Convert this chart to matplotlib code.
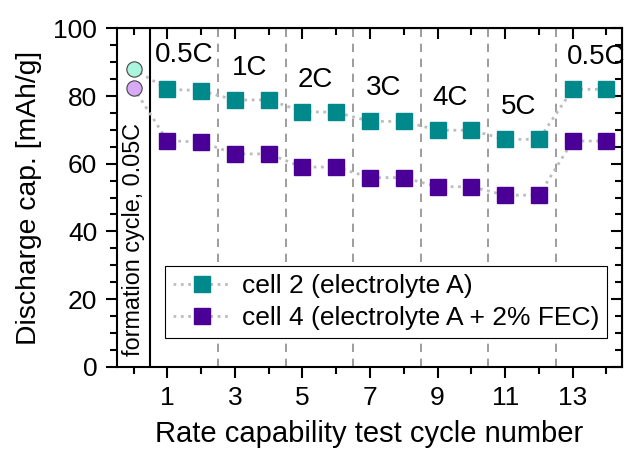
import numpy as np
import matplotlib.pyplot as plt
from matplotlib.ticker import MultipleLocator, FixedLocator, NullFormatter

plt.rcParams['font.family'] = ['Liberation Sans', 'DejaVu Sans']

# data
cycles = [0, 1, 2, 3, 4, 5, 6, 7, 8, 9, 10, 11, 12, 13, 14]
cell2 = [88.0, 82.0, 81.6, 78.8, 78.9, 75.4, 75.2, 72.5, 72.5, 69.9, 69.9, 67.2, 67.2, 82.0, 82.0]
cell4 = [82.4, 66.8, 66.4, 62.9, 62.9, 59.0, 59.0, 55.9, 55.9, 53.2, 53.2, 50.7, 50.7, 66.7, 66.7]
rate_labels = ['0.5C', '1C', '2C', '3C', '4C', '5C', '0.5C']
rate_x = [0.62, 2.9, 4.86, 6.87, 8.84, 10.86, 12.84]
rate_y = [92.1, 88.3, 84.7, 82.3, 79.3, 76.8, 91.4]
borders = [2.5, 4.5, 6.5, 8.5, 10.5, 12.5]

teal = '#00898a'
purple = '#4a0096'
teal_light = '#a9f5dd'
purple_light = '#d8a9f6'

fig = plt.figure(figsize=(6.25, 4.5), dpi=100)
ax = fig.add_axes([0.1867, 0.185, 0.808, 0.752])

for b in borders:
    ax.axvline(b, color='#8c8c8c', ls=(0, (5, 4)), lw=1.2, zorder=1)
ax.axvline(0.5, color='black', lw=1.5, zorder=2)

for vals, c, cl, lab in [(cell2, teal, teal_light, 'cell 2 (electrolyte A)'),
                         (cell4, purple, purple_light, 'cell 4 (electrolyte A + 2% FEC)')]:
    ax.plot(cycles, vals, ls=':', color='#bdbdbd', lw=2, zorder=3)
    ax.plot(cycles[1:], vals[1:], ls='none', marker='s', ms=11, mfc=c, mec=c,
            zorder=4)
    ax.plot(cycles[:1], vals[:1], ls='none', marker='o', ms=11, mfc=cl,
            mec='#444444', mew=0.8, zorder=4)
    ax.plot([], [], ls=':', color='#bdbdbd', lw=2, marker='s', ms=11,
            mfc=c, mec=c, label=lab)

for t, x, y in zip(rate_labels, rate_x, rate_y):
    ax.text(x, y, t, fontsize=20, ha='left', va='center', zorder=5)

ax.text(0.0, 3.3, 'formation cycle, 0.05C', rotation=90, fontsize=16.8,
        ha='center', va='bottom')

ax.set_xlim(-0.5, 14.45)
ax.set_ylim(0, 100)
ax.xaxis.set_major_locator(FixedLocator([1, 3, 5, 7, 9, 11, 13]))
ax.xaxis.set_minor_locator(FixedLocator([0, 2, 4, 6, 8, 10, 12, 14]))
ax.yaxis.set_major_locator(MultipleLocator(20))
ax.yaxis.set_minor_locator(MultipleLocator(5))
ax.tick_params(which='major', direction='out', length=8, width=1.5,
               labelsize=19, pad=6)
ax.tick_params(which='minor', direction='out', length=5, width=1.5)
for s in ax.spines.values():
    s.set_linewidth(1.5)

top = ax.secondary_xaxis('top')
top.xaxis.set_major_locator(FixedLocator([1, 3, 5, 7, 9, 11, 13]))
top.xaxis.set_minor_locator(FixedLocator([0, 2, 4, 6, 8, 10, 12, 14]))
top.xaxis.set_major_formatter(NullFormatter())
top.tick_params(which='major', direction='in', length=8, width=1.5)
top.tick_params(which='minor', direction='in', length=5, width=1.5)
right = ax.secondary_yaxis('right')
right.yaxis.set_major_locator(MultipleLocator(20))
right.yaxis.set_minor_locator(MultipleLocator(5))
right.yaxis.set_major_formatter(NullFormatter())
right.tick_params(which='major', direction='in', length=8, width=1.5)
right.tick_params(which='minor', direction='in', length=5, width=1.5)

ax.set_xlabel('Rate capability test cycle number', fontsize=21, labelpad=7)
ax.set_ylabel('Discharge cap. [mAh/g]', fontsize=20.3, labelpad=8)

leg = ax.legend(loc='lower left', bbox_to_anchor=(0.096, 0.085), fontsize=19,
                frameon=True, fancybox=False, edgecolor='black', framealpha=1,
                borderpad=0.3, handlelength=2.2, handletextpad=0.4,
                labelspacing=0.3, borderaxespad=0)
leg.get_frame().set_linewidth(0.8)

fig.savefig('out.png', dpi=100)
